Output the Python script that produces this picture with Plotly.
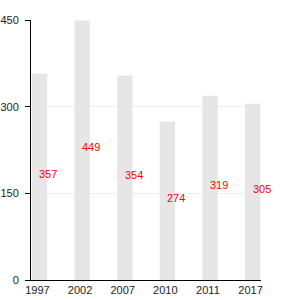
import plotly.graph_objects as go

years = ["1997", "2002", "2007", "2010", "2011", "2017"]
values = [357, 449, 354, 274, 319, 305]
y_ticks = [0, 150, 300, 450]

fig = go.Figure()
fig.add_trace(go.Bar(
    x=years, y=values,
    marker=dict(color="#e6e6e6", line=dict(width=0)),
    width=0.36, offset=-0.13,
    hoverinfo="skip",
))

for i, v in enumerate(values):
    fig.add_annotation(
        x=i, y=v / 2, text=str(v), showarrow=False,
        xref="x", yref="y",
        xanchor="left", yanchor="middle", xshift=0, yshift=3,
        font=dict(family="Liberation Sans, Arial, sans-serif", size=11, color="#ff0000"),
    )

fig.update_layout(
    width=300, height=300,
    margin=dict(l=31, r=39, t=20, b=20, autoexpand=False),
    paper_bgcolor="white", plot_bgcolor="white",
    showlegend=False,
    font=dict(family="Liberation Sans, Arial, sans-serif", size=11, color="#222222"),
)
fig.update_xaxes(
    type="category", range=[-0.15, 5.245], automargin=False,
    showline=True, linecolor="black", linewidth=1,
    showgrid=False, ticks="", zeroline=False,
)
fig.update_yaxes(
    range=[0, 450], tickvals=y_ticks, automargin=False,
    showline=True, linecolor="black", linewidth=1,
    showgrid=True, gridcolor="#eeeeee", gridwidth=1,
    ticks="outside", ticklen=5, tickcolor="black",
    zeroline=False, ticklabelstandoff=4,
)
fig.write_html("out.html")
